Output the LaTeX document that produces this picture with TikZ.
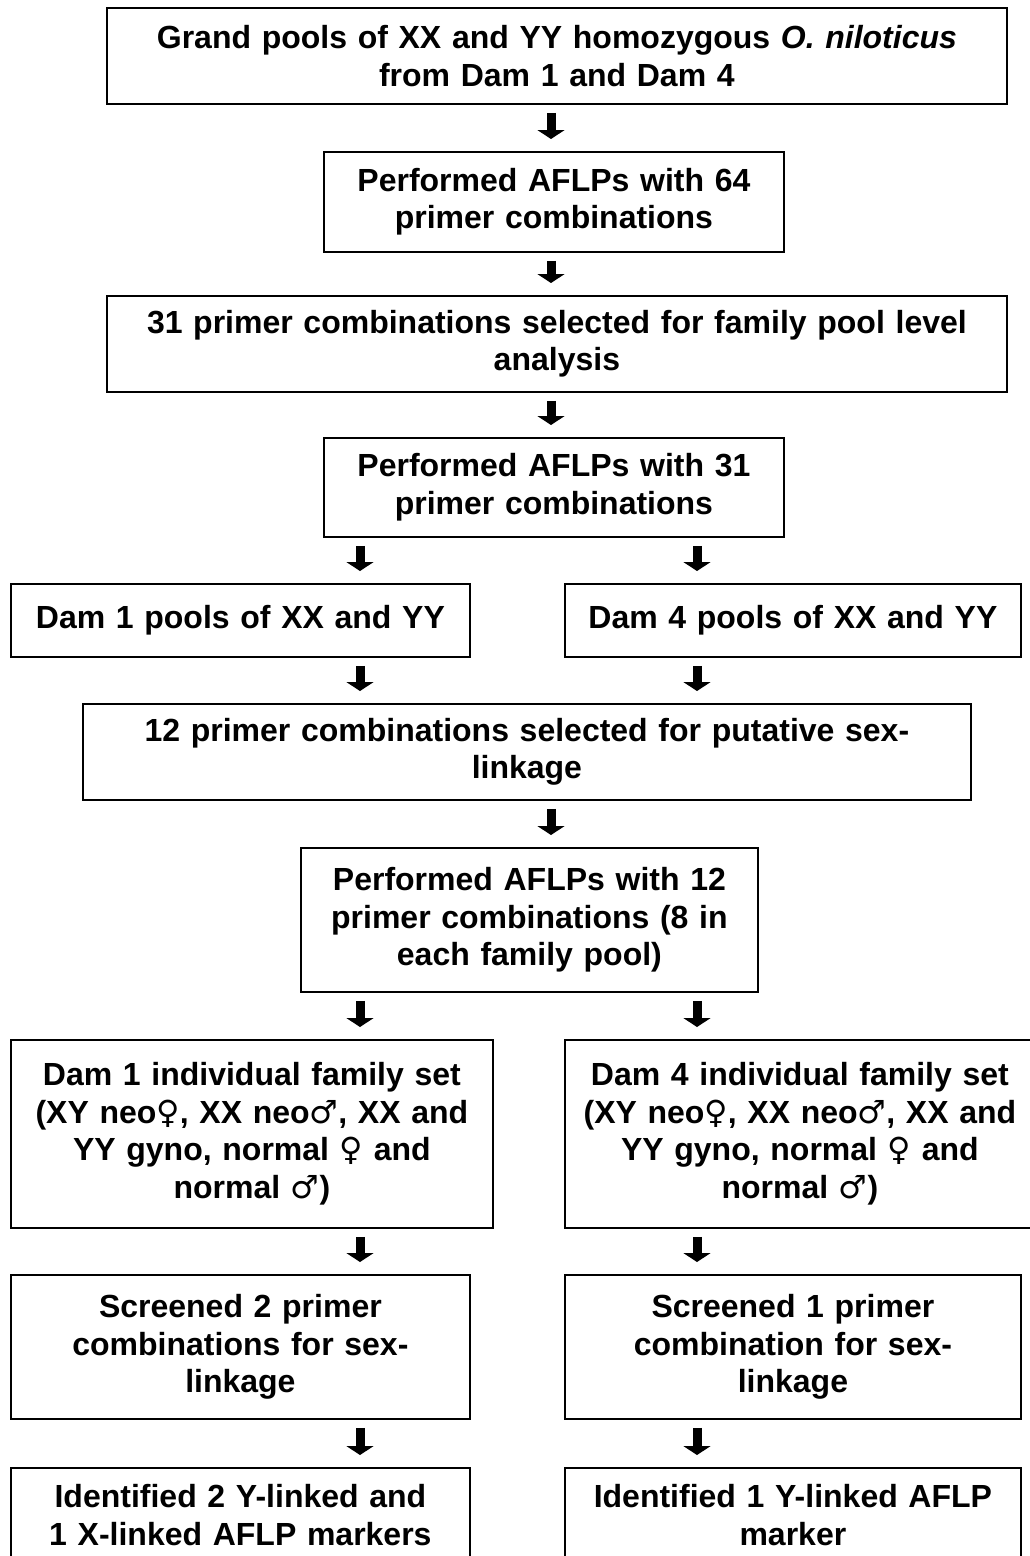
\documentclass[tikz,border=0pt]{standalone}
\usepackage{fontspec}
\setmainfont{Liberation Sans}
\newfontfamily\symfont{DejaVu Sans}
\usetikzlibrary{arrows.meta,calc}
\newcommand{\femsym}{{\symfont\mdseries ♀}}
\newcommand{\malsym}{{\symfont\mdseries ♂}}
\newcommand{\flowfont}{\fontsize{32}{37.5}\selectfont\bfseries}

\begin{document}
\begin{tikzpicture}[x=1pt,y=-1pt,
  box/.style={draw,line width=1.8pt,anchor=north west,inner sep=0pt,align=center,font=\flowfont},
  flowarrow/.style={line width=9pt,-{Triangle[length=9pt,width=27pt]},shorten <=8pt,shorten >=12pt}]
\useasboundingbox (0,0) rectangle (1029,1556);

\coordinate (midcol) at (551,0);
\coordinate (lcol) at (360,0);
\coordinate (rcol) at (697,0);

\node[box,minimum width=900pt,text width=890pt,minimum height=96pt] (grand) at (106,7)
  {Grand pools of XX and YY homozygous \textit{O. niloticus}\\from Dam 1 and Dam 4};
\node[box,minimum width=460pt,text width=450pt,minimum height=100pt] (aflpA) at (323,151)
  {Performed AFLPs with 64\\primer combinations};
\node[box,minimum width=900pt,text width=890pt,minimum height=96pt] (selA) at (106,295)
  {31 primer combinations selected for family pool level\\analysis};
\node[box,minimum width=460pt,text width=450pt,minimum height=99pt] (aflpB) at (323,437)
  {Performed AFLPs with 31\\primer combinations};

\node[box,minimum width=459pt,text width=449pt,minimum height=73pt] (poolL) at (10,583)
  {Dam 1 pools of XX and YY};
\node[box,minimum width=456pt,text width=446pt,minimum height=73pt] (poolR) at (564,583)
  {Dam 4 pools of XX and YY};

\node[box,minimum width=888pt,text width=878pt,minimum height=96pt] (selB) at (82,703)
  {12 primer combinations selected for putative sex-\\linkage};
\node[box,minimum width=457pt,text width=447pt,minimum height=144pt] (aflpC) at (300,847)
  {Performed AFLPs with 12\\primer combinations (8 in\\each family pool)};

\node[box,minimum width=482pt,text width=472pt,minimum height=188pt] (famL) at (10,1039)
  {Dam 1 individual family set\\(XY neo\femsym, XX neo\malsym, XX and\\YY gyno, normal \femsym{} and\\normal \malsym)};
\node[box,minimum width=470pt,text width=460pt,minimum height=188pt] (famR) at (564,1039)
  {Dam 4 individual family set\\(XY neo\femsym, XX neo\malsym, XX and\\YY gyno, normal \femsym{} and\\normal \malsym)};

\node[box,minimum width=459pt,text width=449pt,minimum height=144pt] (scrL) at (10,1274)
  {Screened 2 primer\\combinations for sex-\\linkage};
\node[box,minimum width=456pt,text width=446pt,minimum height=144pt] (scrR) at (564,1274)
  {Screened 1 primer\\combination for sex-\\linkage};

\node[box,minimum width=459pt,text width=449pt,minimum height=94pt] (idL) at (10,1467)
  {Identified 2 Y-linked and\\1 X-linked AFLP markers};
\node[box,minimum width=456pt,text width=446pt,minimum height=94pt] (idR) at (564,1467)
  {Identified 1 Y-linked AFLP\\marker};

% arrows
\draw[flowarrow] (grand.south -| midcol) -- (aflpA.north -| midcol);
\draw[flowarrow] (aflpA.south -| midcol) -- (selA.north -| midcol);
\draw[flowarrow] (selA.south -| midcol) -- (aflpB.north -| midcol);
\draw[flowarrow] (aflpB.south -| lcol) -- (poolL.north -| lcol);
\draw[flowarrow] (aflpB.south -| rcol) -- (poolR.north -| rcol);
\draw[flowarrow] (poolL.south -| lcol) -- (selB.north -| lcol);
\draw[flowarrow] (poolR.south -| rcol) -- (selB.north -| rcol);
\draw[flowarrow] (selB.south -| midcol) -- (aflpC.north -| midcol);
\draw[flowarrow] (aflpC.south -| lcol) -- (famL.north -| lcol);
\draw[flowarrow] (aflpC.south -| rcol) -- (famR.north -| rcol);
\draw[flowarrow] (famL.south -| lcol) -- (scrL.north -| lcol);
\draw[flowarrow] (famR.south -| rcol) -- (scrR.north -| rcol);
\draw[flowarrow] (scrL.south -| lcol) -- (idL.north -| lcol);
\draw[flowarrow] (scrR.south -| rcol) -- (idR.north -| rcol);
\end{tikzpicture}
\end{document}
